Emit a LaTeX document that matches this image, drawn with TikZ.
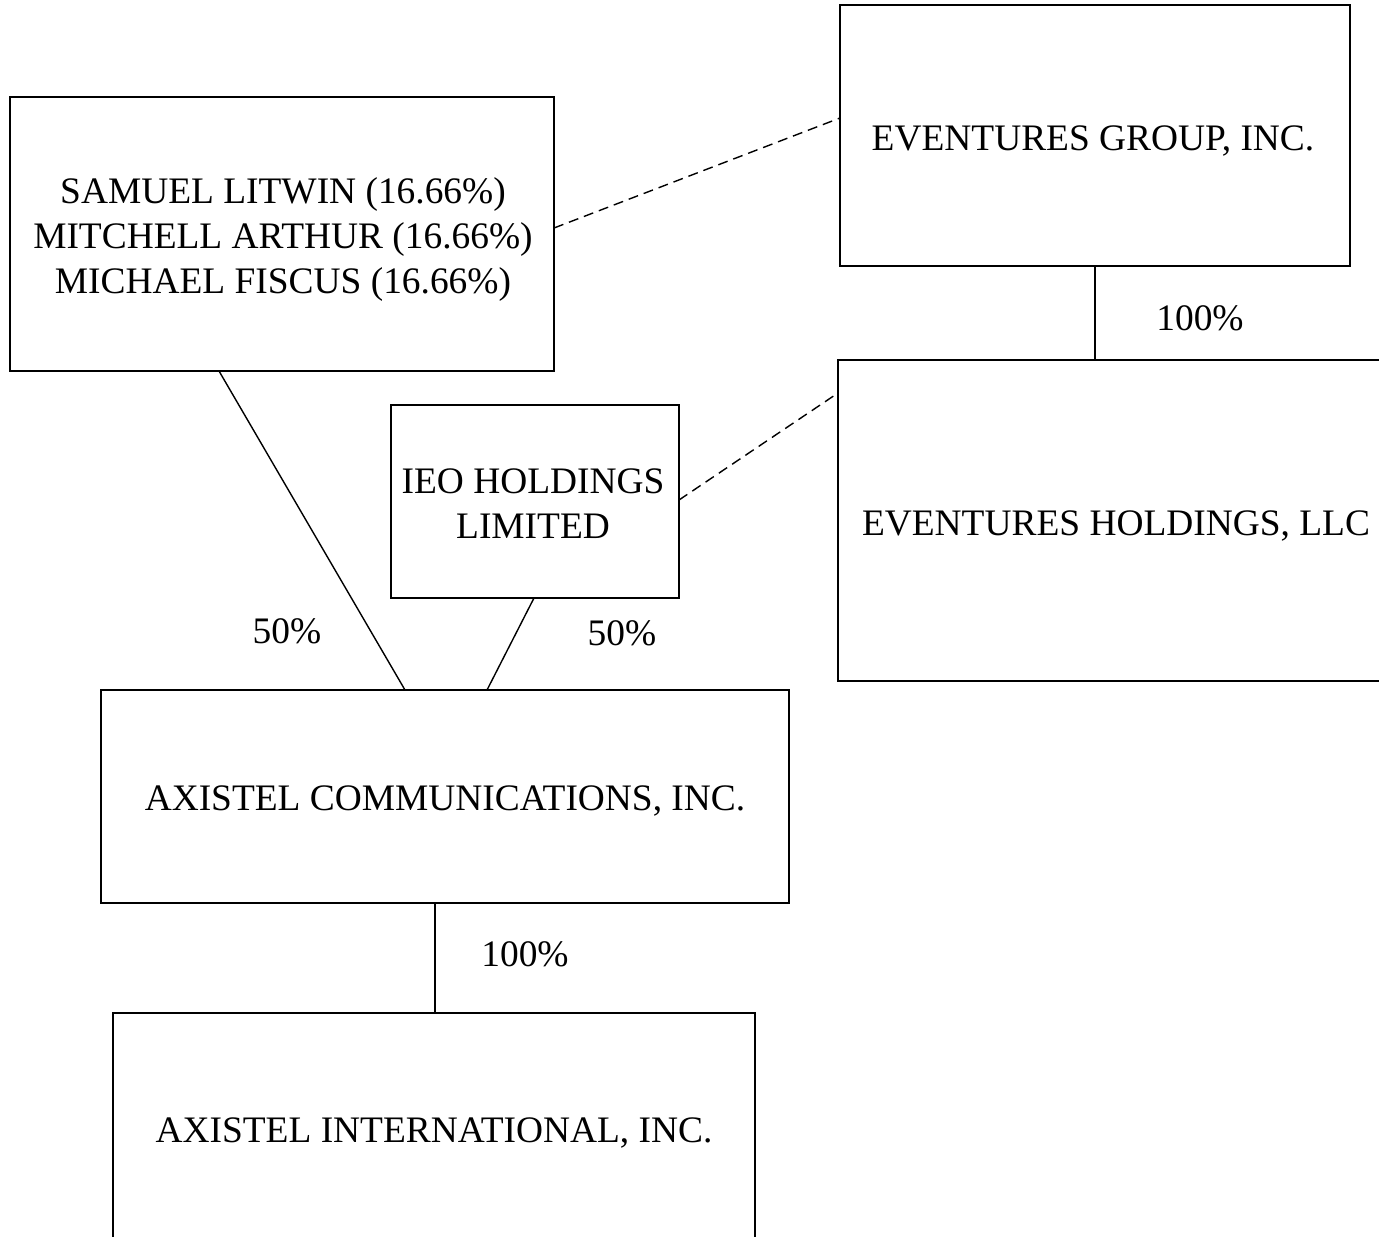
\documentclass[tikz,border=0pt]{standalone}
\usepackage{fontspec}
\setmainfont{Liberation Serif}
\begin{document}
\begin{tikzpicture}[x=0.5pt,y=-0.5pt,
  box/.style={draw,line width=0.8pt,rectangle,inner sep=0pt},
  txt/.style={inner sep=0pt,align=center,font=\fontsize{18.7pt}{22.6pt}\selectfont},
  lbl/.style={font=\fontsize{18.7pt}{22pt}\selectfont,inner sep=0pt},
  conn/.style={line width=0.7pt},
  dconn/.style={line width=0.7pt,dash pattern=on 5pt off 3pt}]
\useasboundingbox (0,0) rectangle (1379,1236);
\node[box,minimum width=272pt,minimum height=137pt] (owners) at (282,234) {};
\node[box,minimum width=255pt,minimum height=130.5pt] (egroup) at (1095,135.5) {};
\node[box,minimum width=278.5pt,minimum height=160.5pt] (ehold) at (1116.5,520.5) {};
\node[box,minimum width=144pt,minimum height=96.5pt] (ieo) at (535,501.5) {};
\node[box,minimum width=344pt,minimum height=106.5pt] (acomm) at (445,796.5) {};
\node[box,minimum width=321pt,minimum height=118.5pt] (aintl) at (434,1131.5) {};
% texts
\node[txt] (ownersT) at (283,239.5) {SAMUEL LITWIN (16.66\%)\\MITCHELL ARTHUR (16.66\%)\\MICHAEL FISCUS (16.66\%)};
\node[txt] (egroupT) at (1093,141) {EVENTURES GROUP, INC.};
\node[txt] (eholdT) at (1116,526) {EVENTURES HOLDINGS, LLC};
\node[txt] (ieoT) at (533,504) {IEO HOLDINGS\\LIMITED};
\node[txt] (acommT) at (445,801) {AXISTEL COMMUNICATIONS, INC.};
\node[txt] (aintlT) at (434,1133) {AXISTEL INTERNATIONAL, INC.};
% connector end points
\coordinate (ownR) at (554,228);
\coordinate (egL) at (840,118);
\coordinate (ieoR) at (679,500);
\coordinate (ehL) at (838,393);
\coordinate (egB) at (1095,266);
\coordinate (ehT) at (1095,360);
\coordinate (ownB) at (219,371);
\coordinate (acT1) at (405,690);
\coordinate (ieoB) at (534,598);
\coordinate (acT2) at (487,690);
\coordinate (acB) at (435,903);
\coordinate (aiT) at (435,1013);
\draw[dconn] (ownR) -- (egL);
\draw[dconn] (ieoR) -- (ehL);
\draw[conn] (egB) -- (ehT);
\draw[conn] (ownB) -- (acT1);
\draw[conn] (ieoB) -- (acT2);
\draw[conn] (acB) -- (aiT);
\node[lbl] (l1) at (1200,318) {100\%};
\node[lbl] (l2) at (287,631) {50\%};
\node[lbl] (l3) at (622,633) {50\%};
\node[lbl] (l4) at (525,954) {100\%};
\end{tikzpicture}
\end{document}
